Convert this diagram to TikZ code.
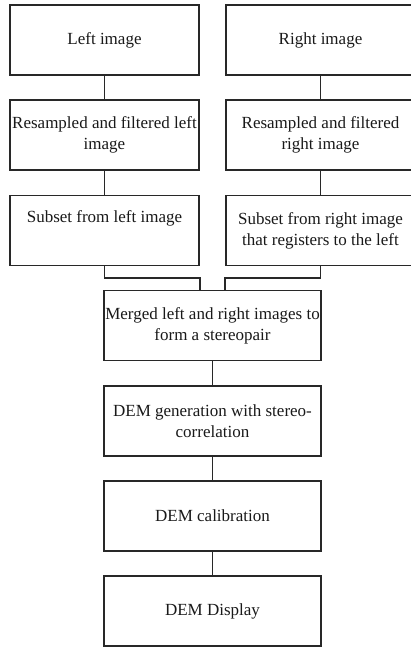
\documentclass[tikz,border=0pt]{standalone}
\usepackage{fontspec}
\setmainfont{Liberation Serif}
\usepackage{tikz}
\usetikzlibrary{positioning, calc}
\definecolor{inkline}{RGB}{40, 40, 40}
\definecolor{inktext}{RGB}{25, 25, 25}
\tikzset{
  procbox/.style={rectangle, draw=inkline, line width=1.7pt, minimum width=#1, minimum height=70pt, inner sep=0pt, outer sep=0pt, align=center, text=inktext, font=\fontsize{17}{21}\selectfont},
  procbox/.default=189pt,
  link/.style={draw=inkline, line width=1.7pt},
}
\begin{document}
\begin{tikzpicture}[x=1pt, y=1pt, node distance=25.2pt]
\useasboundingbox (0,0) rectangle (410,-648);
\node[procbox] (limg) at (104.5,-40) {Left image};
\node[procbox] (rimg) at (320.5,-40) {Right image};
\node[procbox, below=of limg] (lres) {Resampled and filtered left\\image};
\node[procbox, below=of rimg] (rres) {Resampled and filtered\\right image};
\node[procbox, below=of lres] (lsub) {Subset from left image\\\strut};
\node[procbox, below=of rres] (rsub) {Subset from right image\\that registers to the left};
\node[procbox=217pt] (merged) at (212.5,-325.6) {Merged left and right images to\\form a stereopair};
\node[procbox=217pt, below=of merged] (demgen) {DEM generation with stereo-\\correlation};
\node[procbox=217pt, below=of demgen] (demcal) {DEM calibration};
\node[procbox=217pt, below=of demcal] (demdisp) {DEM Display};

\draw[link] (limg) -- (lres);
\draw[link] (rimg) -- (rres);
\draw[link] (lres) -- (lsub);
\draw[link] (rres) -- (rsub);
\draw[link] (lsub.south) -- ++(0,-12.6) -| ([xshift=-12.5pt]merged.north);
\draw[link] (rsub.south) -- ++(0,-12.6) -| ([xshift=12.5pt]merged.north);
\draw[link] (merged) -- (demgen);
\draw[link] (demgen) -- (demcal);
\draw[link] (demcal) -- (demdisp);
\end{tikzpicture}
\end{document}
